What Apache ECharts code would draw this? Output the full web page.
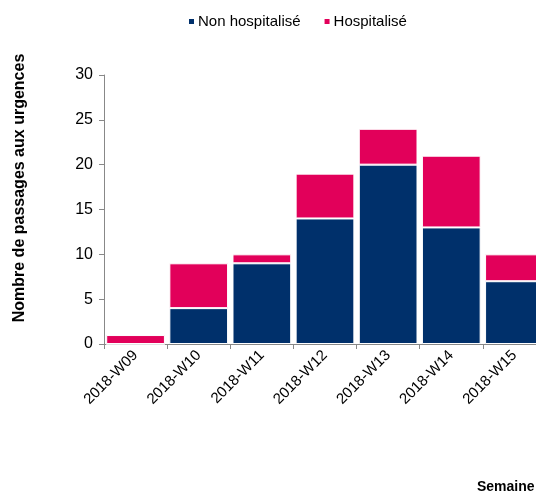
<!DOCTYPE html>
<html><head><meta charset="utf-8">
<script src="https://cdn.jsdelivr.net/npm/echarts@6/dist/echarts.min.js"></script>
<style>html,body{margin:0;padding:0;background:#fff}#c{width:536px;height:493px}</style>
</head><body><div id="c"></div>
<script>
const categories = ['2018-W09','2018-W10','2018-W11','2018-W12','2018-W13','2018-W14','2018-W15'];
const nonHospitalise = [0, 4, 9, 14, 20, 13, 7];
const hospitalise = [1, 5, 1, 5, 4, 8, 3];
const seriesNames = ['Non hospitalisé', 'Hospitalisé'];
const yTicks = {min: 0, max: 30, interval: 5};
const yName = 'Nombre de passages aux urgences';
const xName = 'Semaine';

const chart = echarts.init(document.getElementById('c'));
const font = 'Liberation Sans, Arial, sans-serif';
chart.setOption({
  animation: false,
  textStyle: {fontFamily: font},
  title: {
    text: xName, left: 472, top: 475,
    textStyle: {fontFamily: font, fontSize: 14, fontWeight: 'bold', color: '#000'}
  },
  graphic: [{
    type: 'text', x: 20, y: 188, rotation: Math.PI / 2,
    style: {text: yName, fontFamily: font, fontSize: 16, fontWeight: 'bold', fill: '#000',
            textAlign: 'center', textVerticalAlign: 'middle'}
  }],
  legend: {
    top: 9, left: 182,
    itemWidth: 7, itemHeight: 7, itemGap: 22,
    icon: 'rect',
    textStyle: {fontFamily: font, fontSize: 15, color: '#000', padding: [0,0,0,-2]},
    data: seriesNames
  },
  grid: {left: 104, top: 75, width: 442, height: 269, outerBoundsMode: 'none', containLabel: false},
  xAxis: {
    type: 'category', data: categories,
    axisLine: {lineStyle: {color: '#888'}},
    axisTick: {show: true, alignWithLabel: false, length: 5, lineStyle: {color: '#888'}},
    axisLabel: {rotate: 45, fontSize: 15, color: '#000', margin: 9, interval: 0, fontFamily: font}
  },
  yAxis: {
    type: 'value', min: yTicks.min, max: yTicks.max, interval: yTicks.interval,
    axisLine: {show: true, lineStyle: {color: '#888'}},
    axisTick: {show: true, length: 5, lineStyle: {color: '#888'}},
    axisLabel: {fontSize: 16, color: '#000', margin: 11, fontFamily: font},
    splitLine: {show: false}
  },
  series: [
    {name: seriesNames[0], type: 'bar', stack: 's', data: nonHospitalise, barCategoryGap: '7%',
     itemStyle: {color: '#00306B', borderColor: '#fff', borderWidth: 1}},
    {name: seriesNames[1], type: 'bar', stack: 's', data: hospitalise, barCategoryGap: '7%',
     itemStyle: {color: '#E2005A', borderColor: '#fff', borderWidth: 1}}
  ]
});
</script></body></html>
